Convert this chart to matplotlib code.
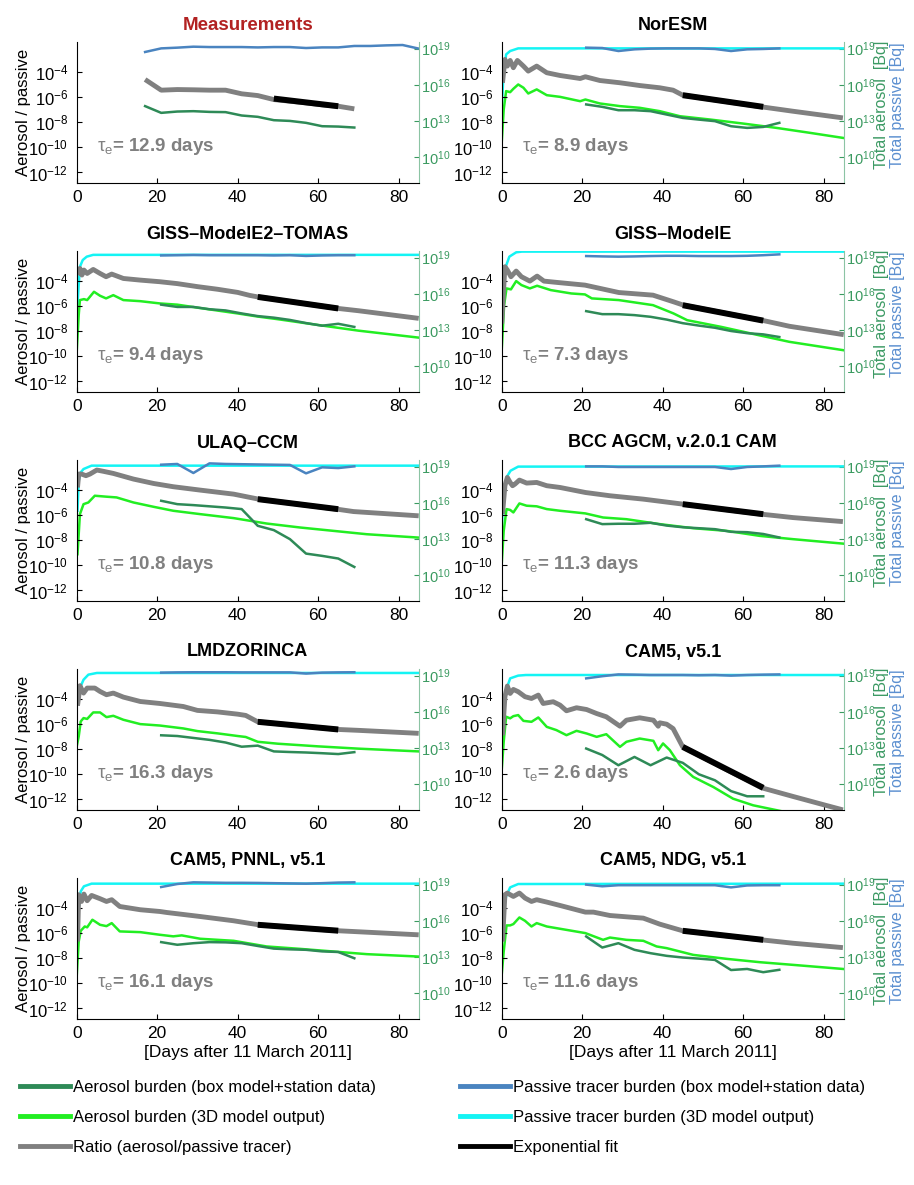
#!/usr/bin/env python3
"""aerosol/passive tracer ratio panels: measurements + 9 models, 5x2 grid, shared legend at bottom."""
import numpy as np
import matplotlib; matplotlib.use("Agg")
import matplotlib.pyplot as plt
from matplotlib.lines import Line2D
import matplotlib.ticker as mticker

# ---- data (all burdens / ratios as log10 values) ----
BOX_DAYS = [21, 25, 29, 33, 37, 41, 45, 49, 53, 57, 61, 65, 69]
FIT_DAYS = [45, 65]

# Measurements
meas_pas_days = [17, 21, 25, 29, 33, 37, 41, 45, 49, 53, 57, 61, 65, 69, 73, 77, 81, 85]
meas_pas = [18.72, 19.02, 19.08, 19.16, 19.13, 19.13, 19.13, 19.10, 19.13, 19.13, 19.05, 19.10,
            19.10, 19.22, 19.22, 19.27, 19.30, 19.00]
meas_days = [17, 21, 25, 29, 33, 37, 41, 45, 49, 53, 57, 61, 65, 69]
meas_aer = [14.22, 13.66, 13.77, 13.80, 13.74, 13.72, 13.44, 13.33, 13.05, 12.99, 12.83, 12.55, 12.52, 12.44]
meas_ratio = [-4.59, -5.44, -5.39, -5.41, -5.44, -5.44, -5.73, -5.87, -6.19, -6.32, -6.45, -6.61, -6.72, -6.93]
meas_fit_days = [49, 65]
meas_fit = [-6.11, -6.72]

# NorESM
noresm_pas3d = [(0, 13.94), (0.4, 16.58), (1.1, 18.52), (2.1, 18.8), (4.1, 19.02), (85, 19.02)]
noresm_aer3d = [(0, 11.16), (0.5, 13.94), (1.1, 15.47), (2.1, 15.38), (2.9, 15.66), (4.1, 16.02), (5.4, 15.75),
                (6.6, 15.27), (8.7, 15.61), (11.2, 15.13), (14.5, 14.99), (19.5, 14.63), (20.8, 14.77),
                (24.4, 14.44), (29.4, 14.22), (34.3, 14.08), (39.3, 13.8), (44.3, 13.38), (51.7, 13.11),
                (60, 12.77), (68.3, 12.41), (76.6, 12.0), (84.8, 11.58)]
noresm_ratio = [(0.2, -4.85), (0.8, -2.99), (1.4, -3.52), (2.1, -3.07), (2.9, -3.65), (3.9, -3.07), (5.4, -3.52),
                (6.6, -3.92), (8.7, -3.52), (11.2, -4.05), (14.5, -4.27), (19.5, -4.51), (20.8, -4.37),
                (24.4, -4.67), (29.4, -4.85), (34.3, -5.07), (39.3, -5.25), (42.6, -5.44), (45, -5.84),
                (64.6, -6.77), (72.4, -7.12), (84.8, -7.65)]
noresm_box_pas = [19.08, 19.05, 18.80, 18.94, 19.00, 19.02, 19.02, 19.02, 18.97, 18.80, 18.94, 18.97, 19.02]
noresm_box_aer = [14.36, 14.16, 13.88, 13.88, 13.80, 13.52, 13.24, 13.10, 12.97, 12.55, 12.41, 12.49, 12.83]
noresm_fit = [-5.84, -6.77]

# GISS-ModelE2-TOMAS
tomas_pas3d = [(0, 13.94), (0.5, 16.72), (0.8, 18.24), (1.5, 18.8), (2.5, 19.08), (4.1, 19.23), (85, 19.23)]
tomas_aer3d = [(0, 11.16), (0.5, 14.22), (0.8, 15.47), (1.8, 15.55), (2.6, 15.47), (4.3, 16.16), (5.8, 15.83),
               (7.3, 15.61), (9.1, 15.88), (11.6, 15.47), (15.8, 15.38), (20.7, 15.19), (25, 15.09), (30, 14.84),
               (40, 14.36), (45, 14.1), (50, 13.88), (60, 13.4), (70, 12.93), (85, 12.35)]
tomas_ratio = [(0.3, -3.52), (0.8, -2.99), (1.3, -3.52), (1.8, -3.12), (2.6, -3.39), (4.1, -3.07), (5.8, -3.39),
               (7.3, -3.65), (8.7, -3.44), (11.6, -3.79), (15.8, -3.92), (20.7, -4.05), (25, -4.2), (30, -4.44),
               (35, -4.65), (40, -4.9), (43, -5.14), (45, -5.26), (65, -6.18), (70, -6.36), (85, -6.97)]
tomas_box_pas = [19.18, 19.20, 19.22, 19.20, 19.20, 19.20, 19.20, 19.18, 19.20, 19.14, 19.18, 19.20, 19.20]
tomas_box_aer = [15.09, 14.90, 14.90, 14.71, 14.61, 14.36, 14.14, 14.01, 13.82, 13.56, 13.34, 13.50, 13.24]
tomas_fit = [-5.26, -6.18]

# GISS-ModelE
gisse_pas3d = [(0, 14.36), (0.3, 16.44), (1, 18.24), (1.9, 19.08), (3.6, 19.44), (5, 19.5), (85, 19.5)]
gisse_aer3d = [(0, 11.3), (0.6, 15.05), (1.2, 16.44), (2.3, 16.36), (3.6, 17.05), (4.9, 16.72), (7, 16.44),
               (8.8, 16.66), (12.2, 16.3), (17.3, 16.02), (20.7, 15.94), (22.4, 15.61), (29.1, 15.47),
               (37.6, 15.05), (42.7, 14.36), (46.1, 13.8), (54.6, 13.24), (63.1, 12.61), (71.5, 12.0), (85, 11.3)]
gisse_ratio = [(0, -7.39), (0.8, -2.85), (1.4, -3.12), (2.3, -3.65), (3.6, -3.2), (4.9, -3.65), (7, -4.0),
               (8.8, -3.6), (10.5, -4.0), (13.9, -4.11), (20.7, -4.32), (29.1, -4.91), (37.6, -5.12),
               (42.7, -5.65), (45.2, -5.92), (65.1, -7.15), (71.5, -7.6), (85, -8.27)]
gisse_box_pas = [19.13, 19.10, 19.08, 19.10, 19.13, 19.15, 19.15, 19.13, 19.13, 19.13, 19.15, 19.20, 19.27]
gisse_box_aer = [14.55, 14.30, 14.30, 14.22, 14.08, 13.85, 13.55, 13.35, 13.17, 12.90, 12.72, 12.62, 12.40]
gisse_fit = [-5.92, -7.15]

# ULAQ-CCM
ulaq_pas3d = [(0.2, 15.33), (0.5, 17.83), (1, 18.52), (1.7, 18.8), (3.7, 19.08), (85, 19.08)]
ulaq_aer3d = [(0.2, 11.72), (0.8, 15.05), (1.7, 15.88), (2.9, 16.02), (4.5, 16.58), (7.4, 16.5), (9.9, 16.44),
              (14.1, 16.02), (19.1, 15.66), (24, 15.33), (30.7, 15.05), (39, 14.72), (47.2, 14.27), (55.5, 13.94),
              (63.8, 13.66), (72.1, 13.38), (85, 13.1)]
ulaq_ratio = [(0.2, -3.79), (0.5, -2.72), (1.2, -2.72), (2.3, -2.85), (3.3, -2.72), (5, -2.4), (6.6, -2.5),
              (9.1, -2.67), (14.1, -3.12), (19.1, -3.47), (24, -3.73), (30.7, -4.0), (39, -4.32), (45.2, -4.72),
              (64.7, -5.52), (68.8, -5.71), (85, -6.05)]
ulaq_box_pas = [19.16, 19.22, 18.47, 19.27, 19.22, 19.20, 19.18, 19.16, 19.14, 18.44, 18.94, 18.88, 19.02]
ulaq_box_aer = [16.16, 15.88, 15.80, 15.70, 15.60, 15.47, 14.08, 13.72, 12.97, 11.77, 11.58, 11.36, 10.66]
ulaq_fit = [-4.72, -5.52]

# BCC AGCM
bcc_pas3d = [(0, 13.8), (0.4, 16.44), (1.2, 18.11), (2.2, 18.66), (4.1, 19.0), (85, 19.02)]
bcc_aer3d = [(0, 10.88), (0.5, 13.66), (1.2, 15.47), (2.1, 15.4), (2.9, 15.19), (4.4, 15.94), (6.2, 15.75),
             (8.7, 15.7), (11.2, 15.47), (14.5, 15.33), (20.8, 15.11), (25.2, 14.77), (31, 14.63), (39.3, 14.22),
             (47.6, 13.88), (55.9, 13.66), (64.2, 13.24), (72.4, 12.97), (84.8, 12.6)]
bcc_ratio = [(0.2, -5.92), (0.8, -3.65), (1.4, -2.99), (2.1, -3.39), (2.7, -3.65), (3.3, -3.52), (4.4, -3.2),
             (6.2, -3.44), (8.7, -3.39), (11.2, -3.65), (14.5, -3.79), (20.8, -4.19), (26.9, -4.45),
             (35.2, -4.72), (45.1, -5.12), (64.6, -5.92), (72.4, -6.19), (84.8, -6.51)]
bcc_box_pas = [19.02, 19.02, 18.97, 18.97, 18.97, 18.97, 18.97, 18.97, 18.97, 18.80, 18.97, 19.02, 19.08]
bcc_box_aer = [14.63, 14.22, 14.25, 14.25, 14.33, 14.10, 13.96, 13.88, 13.80, 13.58, 13.55, 13.40, 13.11]
bcc_fit = [-5.12, -5.92]

# LMDZORINCA
lmdz_pas3d = [(0, 17.22), (0.8, 17.97), (1.7, 18.66), (2.9, 19.08), (5, 19.22), (85, 19.22)]
lmdz_aer3d = [(0, 13.11), (0.5, 13.94), (1, 15.19), (1.7, 15.47), (2.6, 15.4), (4.1, 15.94), (5.8, 15.94),
              (7.4, 15.55), (9.1, 15.66), (11.6, 15.33), (15.8, 14.97), (20.7, 14.85), (26.5, 14.61), (30, 14.39),
              (35, 14.2), (40, 13.98), (42, 13.9), (45, 13.5), (50, 13.34), (60, 13.12), (70, 12.93), (85, 12.7)]
lmdz_ratio = [(0.2, -4.53), (0.5, -3.79), (0.8, -2.93), (1.7, -3.52), (2.6, -3.12), (4.5, -3.12), (5.8, -3.39),
              (7.4, -3.65), (9.1, -3.52), (11.6, -3.84), (15.8, -4.19), (20.7, -4.35), (26.5, -4.59), (30, -4.9),
              (35, -5.02), (40, -5.2), (42, -5.3), (45, -5.81), (65, -6.42), (70, -6.49), (85, -6.73)]
lmdz_box_pas = [19.25, 19.27, 19.28, 19.28, 19.28, 19.27, 19.27, 19.27, 19.27, 19.17, 19.25, 19.27, 19.28]
lmdz_box_aer = [14.04, 13.98, 13.82, 13.66, 13.44, 13.09, 13.18, 12.70, 12.65, 12.61, 12.55, 12.48, 12.64]
lmdz_fit = [-5.81, -6.42]

# CAM5, v5.1
cam5_pas3d = [(0, 14.05), (0.4, 16.41), (1.1, 17.8), (2.1, 18.77), (4.1, 19.0), (6, 19.05), (85, 19.05)]
cam5_aer3d = [(0, 11.13), (0.5, 13.5), (1.1, 15.58), (2.1, 15.45), (2.9, 15.63), (4.1, 15.72), (5.4, 15.24),
              (7.4, 15.16), (9.1, 15.52), (11.2, 14.74), (13.6, 14.47), (16.1, 14.05), (18.6, 14.41), (21.1, 14.19),
              (23.6, 13.91), (26, 14.13), (29.4, 13.08), (31, 13.5), (34.3, 13.77), (37.7, 13.58), (38.9, 12.8),
              (40.1, 13.36), (41.8, 12.8), (44.3, 11.55), (47.6, 10.58), (52.6, 9.74), (57.5, 8.77),
              (62.5, 8.22), (69.4, 7.74)]
cam5_ratio = [(0.2, -6.88), (0.8, -3.81), (1.4, -2.96), (2.1, -3.55), (2.9, -3.23), (4.1, -3.41), (5.8, -3.81),
              (7.4, -3.95), (9.1, -3.68), (10.3, -4.35), (12.8, -4.21), (14.5, -4.48), (16.1, -4.93),
              (18.6, -4.69), (21.1, -4.83), (23.6, -5.15), (26, -5.41), (29.4, -6.16), (31, -5.68),
              (34.3, -5.49), (37.7, -5.68), (38.9, -6.16), (39.3, -5.89), (41, -6.0), (42.6, -6.35),
              (45, -7.81), (64.6, -11.07), (72.4, -11.76), (80.7, -12.48), (84.8, -12.83)]
cam5_box_pas = [18.77, 18.95, 19.10, 19.08, 19.05, 19.05, 19.05, 19.03, 19.05, 19.00, 19.05, 19.08, 19.10]
cam5_box_aer = [12.94, 12.40, 11.55, 12.24, 11.55, 12.19, 11.75, 10.80, 10.30, 9.40, 8.97, 8.97]
cam5_fit = [-7.81, -11.07]

# CAM5, PNNL, v5.1
pnnl_pas3d = [(0, 14.13), (0.5, 17.05), (1, 18.44), (1.8, 18.86), (3.7, 19.08), (85, 19.08)]
pnnl_aer3d = [(0, 11.36), (0.5, 14.27), (1, 15.16), (2, 15.52), (2.6, 15.45), (3.9, 16.08), (5.8, 15.66),
              (7.4, 15.55), (8.7, 15.8), (10.7, 15.11), (15.8, 15.05), (20.7, 14.83), (24, 14.7), (26.1, 14.78),
              (30.7, 14.5), (39, 14.33), (47.2, 13.86), (55.5, 13.66), (63.8, 13.44), (72.1, 13.22), (85, 13.02)]
pnnl_ratio = [(0.2, -6.67), (0.5, -2.93), (1.2, -3.47), (1.8, -2.88), (2.6, -3.41), (3.7, -2.99), (5.8, -3.25),
              (7.4, -3.47), (8.7, -3.33), (10.7, -3.87), (15.8, -4.13), (20.7, -4.27), (22.4, -4.35),
              (30.7, -4.67), (39, -5.01), (45.2, -5.33), (64.7, -5.8), (72.1, -5.92), (85, -6.13)]
pnnl_box_pas = [18.80, 19.05, 19.19, 19.17, 19.15, 19.15, 19.14, 19.12, 19.10, 19.08, 19.12, 19.17, 19.19]
pnnl_box_aer = [14.22, 14.00, 14.13, 14.22, 14.20, 14.13, 13.90, 13.68, 13.62, 13.58, 13.45, 13.40, 12.88]
pnnl_fit = [-5.33, -5.8]

# CAM5, NDG, v5.1
ndg_pas3d = [(0, 14.27), (0.4, 16.77), (1.1, 18.02), (2.1, 18.77), (4.1, 19.05), (85, 19.08)]
ndg_aer3d = [(0, 11.49), (0.5, 13.44), (1.2, 15.61), (2.1, 15.61), (2.9, 15.72), (4.4, 16.27), (5.8, 15.99),
             (7.4, 15.52), (8.7, 15.8), (11.2, 15.52), (14.5, 15.33), (20.8, 14.97), (25.2, 14.41), (26.9, 14.6),
             (31, 14.41), (35.2, 14.33), (38.5, 13.86), (41, 13.72), (47.6, 13.16), (55.9, 12.83), (64.2, 12.55),
             (72.4, 12.33), (84.8, 11.99)]
ndg_ratio = [(0.2, -6.67), (0.8, -2.93), (1.4, -2.8), (2.1, -2.93), (2.9, -3.07), (4.4, -2.8), (5.8, -3.2),
             (7.4, -3.47), (8.7, -3.33), (11.2, -3.52), (14.5, -3.79), (20.8, -4.32), (22.8, -4.32),
             (26.9, -4.59), (35.2, -4.8), (39.3, -5.28), (45, -5.81), (64.6, -6.53), (72.4, -6.8), (84.8, -7.15)]
ndg_box_pas = [19.00, 18.86, 18.95, 18.95, 18.95, 18.95, 18.95, 18.95, 18.95, 18.77, 18.93, 18.95, 18.95]
ndg_box_aer = [14.69, 13.77, 14.13, 13.58, 13.30, 13.08, 12.94, 12.85, 12.74, 11.90, 11.99, 11.72, 11.92]
ndg_fit = [-5.81, -6.53]

MODELS = [  # title, tau, 3D passive, 3D aerosol, ratio, box passive, box aerosol, fit
    ("NorESM", "8.9", noresm_pas3d, noresm_aer3d, noresm_ratio, noresm_box_pas, noresm_box_aer, noresm_fit),
    ("GISS\u2013ModelE2\u2013TOMAS", "9.4", tomas_pas3d, tomas_aer3d, tomas_ratio, tomas_box_pas, tomas_box_aer, tomas_fit),
    ("GISS\u2013ModelE", "7.3", gisse_pas3d, gisse_aer3d, gisse_ratio, gisse_box_pas, gisse_box_aer, gisse_fit),
    ("ULAQ\u2013CCM", "10.8", ulaq_pas3d, ulaq_aer3d, ulaq_ratio, ulaq_box_pas, ulaq_box_aer, ulaq_fit),
    ("BCC AGCM, v.2.0.1 CAM", "11.3", bcc_pas3d, bcc_aer3d, bcc_ratio, bcc_box_pas, bcc_box_aer, bcc_fit),
    ("LMDZORINCA", "16.3", lmdz_pas3d, lmdz_aer3d, lmdz_ratio, lmdz_box_pas, lmdz_box_aer, lmdz_fit),
    ("CAM5, v5.1", "2.6", cam5_pas3d, cam5_aer3d, cam5_ratio, cam5_box_pas, cam5_box_aer, cam5_fit),
    ("CAM5, PNNL, v5.1", "16.1", pnnl_pas3d, pnnl_aer3d, pnnl_ratio, pnnl_box_pas, pnnl_box_aer, pnnl_fit),
    ("CAM5, NDG, v5.1", "11.6", ndg_pas3d, ndg_aer3d, ndg_ratio, ndg_box_pas, ndg_box_aer, ndg_fit),
]

# ---- style ----
C_BOXAER = "#2e8a57"; C_AER3D = "#22ee22"; C_BOXPAS = "#4a84c0"; C_PAS3D = "#14f4f4"
C_RATIO = "#808080"; C_FIT = "#000000"
C_RAX = "#8cc4a4"; C_RTICK = "#3a9a60"; C_LAB_AER = "#3c9a64"; C_LAB_PAS = "#5b8fd0"

plt.rcParams.update({"font.family": ["Liberation Sans", "DejaVu Sans"],
                     "mathtext.fontset": "custom", "mathtext.rm": "Liberation Sans",
                     "mathtext.it": "Liberation Sans:italic", "mathtext.bf": "Liberation Sans:bold"})

W_FIG, H_FIG = 914, 1185
COL_X = [76.7, 501.7]; AX_W = 342.0
ROW_TOP = [42.0, 251.0, 460.0, 669.0, 878.0]; AX_H = 141.0
LEFT_LIM = (10**-12.84, 10**-1.6); RIGHT_LIM = (10**7.83, 10**19.55)


def xy(pairs):
    d, v = zip(*pairs)
    return np.array(d), 10.0**np.array(v)


def make_axes(fig, row, col):
    ax = fig.add_axes([COL_X[col]/W_FIG, 1-(ROW_TOP[row]+AX_H)/H_FIG, AX_W/W_FIG, AX_H/H_FIG])
    ax2 = ax.twinx()
    ax.set_zorder(ax2.get_zorder()+1); ax.patch.set_visible(False)
    for a in (ax, ax2):
        a.set_xlim(0, 85)
    ax.set_yscale("log"); ax2.set_yscale("log")
    ax.set_ylim(*LEFT_LIM); ax2.set_ylim(*RIGHT_LIM)
    ax.set_yticks([1e-12, 1e-10, 1e-8, 1e-6, 1e-4]); ax2.set_yticks([1e10, 1e13, 1e16, 1e19])
    ax.yaxis.set_minor_locator(mticker.NullLocator()); ax2.yaxis.set_minor_locator(mticker.NullLocator())
    ax.set_xticks([0, 20, 40, 60, 80])
    ax.tick_params(axis="x", direction="in", length=3.5, labelsize=12.5, pad=5)
    ax.tick_params(axis="y", direction="in", length=3.5, labelsize=12, pad=6)
    ax2.tick_params(axis="y", direction="in", length=3.5, labelsize=10.5, pad=1.5,
                    color=C_RTICK, labelcolor=C_RTICK)
    for s in ("top", "right"): ax.spines[s].set_visible(False)
    for s in ("top", "left", "bottom"): ax2.spines[s].set_visible(False)
    ax2.spines["right"].set_color(C_RAX)
    for s in ("left", "bottom"): ax.spines[s].set_color("black")
    if col == 0:
        ax.set_ylabel("Aerosol / passive", fontsize=12)
        ax.yaxis.set_label_coords(-0.135, 0.5)
    else:
        ax2.text(1.110, 0.555, "Total aerosol  [Bq]", rotation=90, transform=ax2.transAxes,
                 ha="center", va="center", color=C_LAB_AER, fontsize=11.5)
        ax2.text(1.156, 0.555, "Total passive [Bq]", rotation=90, transform=ax2.transAxes,
                 ha="center", va="center", color=C_LAB_PAS, fontsize=11.5)
    if row == 4:
        ax.text(0.5, -0.24, "[Days after 11 March 2011]", transform=ax.transAxes,
                ha="center", va="center", fontsize=12.5)
    return ax, ax2


def tau_label(ax, tau):
    ax.text(5, 10**-9.9, r"$\mathrm{\tau}_{\mathrm{e}}$" + f"= {tau} days", color=C_RATIO,
            fontsize=13.5, fontweight="bold", va="center", ha="left")


fig = plt.figure(figsize=(W_FIG/100, H_FIG/100), dpi=100, facecolor="white")

# measurements panel
ax, ax2 = make_axes(fig, 0, 0)
ax2.plot(meas_pas_days, 10.0**np.array(meas_pas), color=C_BOXPAS, lw=1.8)
ax2.plot(meas_days, 10.0**np.array(meas_aer), color=C_BOXAER, lw=1.8)
ax.plot(meas_days, 10.0**np.array(meas_ratio), color=C_RATIO, lw=3.5, solid_capstyle="butt")
ax.plot(meas_fit_days, 10.0**np.array(meas_fit), color=C_FIT, lw=4.3, solid_capstyle="butt")
ax.set_title("Measurements", fontsize=13.5, fontweight="bold", color="#b22222", pad=9)
tau_label(ax, "12.9")

# model panels
for i, (title, tau, pas3d, aer3d, ratio, bpas, baer, fit) in enumerate(MODELS):
    k = i + 1; row, col = k // 2, k % 2
    ax, ax2 = make_axes(fig, row, col)
    ax2.plot(*xy(pas3d), color=C_PAS3D, lw=1.8)
    ax2.plot(*xy(aer3d), color=C_AER3D, lw=1.8)
    ax2.plot(BOX_DAYS[:len(bpas)], 10.0**np.array(bpas), color=C_BOXPAS, lw=1.8)
    ax2.plot(BOX_DAYS[:len(baer)], 10.0**np.array(baer), color=C_BOXAER, lw=1.8)
    ax.plot(*xy(ratio), color=C_RATIO, lw=3.5, solid_capstyle="butt")
    ax.plot(FIT_DAYS, 10.0**np.array(fit), color=C_FIT, lw=4.3, solid_capstyle="butt")
    ax.set_title(title, fontsize=13, fontweight="bold", pad=9)
    tau_label(ax, tau)

# legend
h = lambda c: Line2D([], [], color=c, lw=3.5)
leg_kw = dict(frameon=False, loc="upper left", borderaxespad=0, borderpad=0, fontsize=12,
              handlelength=3.0, handletextpad=0.2, labelspacing=0.9)
fig.legend([h(C_BOXAER), h(C_AER3D), h(C_RATIO)],
           ["Aerosol burden (box model+station data)", "Aerosol burden (3D model output)",
            "Ratio (aerosol/passive tracer)"], bbox_to_anchor=(20/W_FIG, 1-1080/H_FIG), **leg_kw)
fig.legend([h(C_BOXPAS), h(C_PAS3D), h(C_FIT)],
           ["Passive tracer burden (box model+station data)", "Passive tracer burden (3D model output)",
            "Exponential fit"], bbox_to_anchor=(460/W_FIG, 1-1080/H_FIG), **leg_kw)

fig.savefig("out.png", dpi=100, facecolor="white")
